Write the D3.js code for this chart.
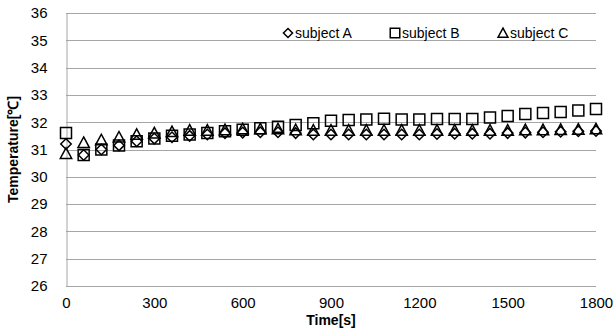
<!DOCTYPE html>
<html>
<head>
<meta charset="utf-8">
<script src="https://cdn.jsdelivr.net/npm/d3@7"></script>
<style>
  body { margin: 0; background: #fff; }
  text { font-family: "Liberation Sans", Arial, sans-serif; fill: #000; }
</style>
</head>
<body>
<svg id="chart" width="614" height="333"></svg>
<script>
// time in seconds, one reading per minute
const times = d3.range(0, 1801, 60)

const subjectA = [31.2, 30.8, 31.0, 31.15, 31.3, 31.4, 31.45, 31.5, 31.55, 31.6, 31.62,
    31.63, 31.63, 31.6, 31.55, 31.55, 31.55, 31.55, 31.55, 31.55, 31.55, 31.57,
    31.58, 31.58, 31.58, 31.6, 31.62, 31.63, 31.65, 31.67, 31.68]
const subjectB = [31.6, 30.8, 31.0, 31.15, 31.3, 31.4, 31.5, 31.55, 31.6, 31.67, 31.72,
    31.78, 31.83, 31.9, 31.96, 32.05, 32.08, 32.1, 32.13, 32.1, 32.1, 32.12,
    32.12, 32.12, 32.17, 32.23, 32.3, 32.34, 32.37, 32.43, 32.48]
const subjectC = [30.85, 31.25, 31.35, 31.45, 31.55, 31.6, 31.65, 31.7, 31.7, 31.72, 31.75,
    31.75, 31.75, 31.72, 31.7, 31.7, 31.7, 31.7, 31.7, 31.7, 31.7, 31.7,
    31.7, 31.7, 31.7, 31.7, 31.72, 31.72, 31.73, 31.74, 31.75]

const xTicks = [0, 300, 600, 900, 1200, 1500, 1800]
const yTicks = [26, 27, 28, 29, 30, 31, 32, 33, 34, 35, 36]

const GRID = "#a6a6a6"

// excel style markers, the d3 diamond is too tall
const symDiamond = {
    draw(ctx, size) {
        const r = Math.sqrt(size) / 2
        ctx.moveTo(0, -r); ctx.lineTo(r, 0); ctx.lineTo(0, r); ctx.lineTo(-r, 0); ctx.closePath()
    }
}
const symSquare = {
    draw(ctx, size) {
        const r = Math.sqrt(size) / 2
        ctx.rect(-r, -r, r * 2, r * 2)
    }
}
const symTriangle = {
    draw(ctx, size) {
        const r = Math.sqrt(size) / 2
        ctx.moveTo(0, -r); ctx.lineTo(r, r * 0.85); ctx.lineTo(-r, r * 0.85); ctx.closePath()
    }
}

const series = [
    {name: "subject A", values: subjectA, type: symDiamond, size: 110},
    {name: "subject B", values: subjectB, type: symSquare, size: 121},
    {name: "subject C", values: subjectC, type: symTriangle, size: 130}
]

const width = 614, height = 333
const margin = {top: 13, right: 18, bottom: 47, left: 66}

const svg = d3.select("#chart")

const x = d3.scaleLinear().domain([0, 1800]).range([margin.left, width - margin.right])
const y = d3.scaleLinear().domain([26, 36]).range([height - margin.bottom, margin.top])

// horizontal grid
svg.append("g")
    .selectAll("line")
    .data(yTicks)
    .enter()
    .append("line")
    .attr("x1", margin.left)
    .attr("x2", width - margin.right)
    .attr("y1", d => Math.round(y(d)) + 0.5)
    .attr("y2", d => Math.round(y(d)) + 0.5)
    .attr("stroke", GRID)

const yAxis = svg.append("g")
    .attr("transform", `translate(${margin.left + 0.5},0)`)
    .call(d3.axisLeft(y).tickValues(yTicks).tickSize(0).tickPadding(19))
yAxis.select(".domain").attr("stroke", GRID)
yAxis.selectAll("text").style("font-size", "15px").attr("font-family", null)

const xAxis = svg.append("g")
    .attr("transform", `translate(0,${Math.round(y(26)) + 0.5})`)
    .call(d3.axisBottom(x).tickValues(xTicks).tickFormat(d3.format("d")).tickSize(0).tickPadding(11))
xAxis.select(".domain").remove()
xAxis.selectAll("text").style("font-size", "15px").attr("font-family", null)

svg.append("text")
    .attr("transform", `translate(18,${(margin.top + height - margin.bottom) / 2}) rotate(-90)`)
    .attr("text-anchor", "middle")
    .style("font-size", "14px")
    .style("font-weight", "bold")
    .text("Temperature[℃]")

svg.append("text")
    .attr("x", (margin.left + width - margin.right) / 2)
    .attr("y", 325)
    .attr("text-anchor", "middle")
    .style("font-size", "14px")
    .style("font-weight", "bold")
    .text("Time[s]")

// markers, no fill so overlapping ones stay visible
series.forEach(s => {
    svg.append("g")
        .selectAll("path")
        .data(s.values)
        .enter()
        .append("path")
        .attr("transform", (d, i) => `translate(${x(times[i])},${y(d)})`)
        .attr("d", d3.symbol().type(s.type).size(s.size))
        .attr("fill", "none")
        .attr("stroke", "#000")
        .attr("stroke-width", 1.5)
})

// legend
const legendX = [288, 395, 503]
const legend = svg.append("g")
    .selectAll("g")
    .data(series)
    .enter()
    .append("g")
    .attr("transform", (d, i) => `translate(${legendX[i]},33)`)
legend.append("path")
    .attr("d", d => d3.symbol().type(d.type).size(d.size * 0.75)())
    .attr("fill", "none")
    .attr("stroke", "#000")
    .attr("stroke-width", 1.5)
legend.append("text")
    .attr("x", 7)
    .attr("y", 5)
    .style("font-size", "14px")
    .text(d => d.name)
</script>
</body>
</html>
